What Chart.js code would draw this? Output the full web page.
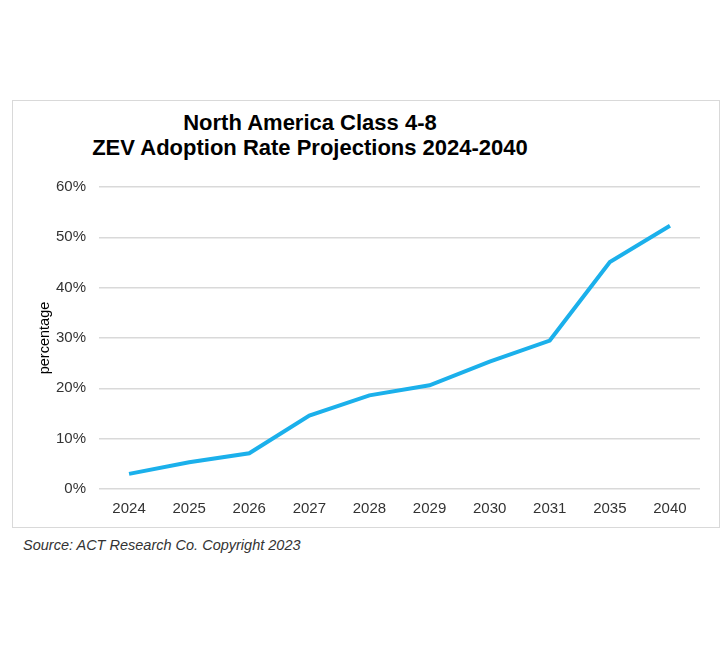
<!DOCTYPE html>
<html>
<head>
<meta charset="utf-8">
<script src="https://cdn.jsdelivr.net/npm/chart.js@4.4.0/dist/chart.umd.min.js"></script>
<style>
  html, body { margin: 0; padding: 0; background: #fff; }
  body { width: 724px; height: 651px; position: relative; overflow: hidden; font-family: "Liberation Sans", Arial, sans-serif; }
  #box { position: absolute; left: 12px; top: 100px; width: 706px; height: 426px; border: 1px solid #d9d9d9; }
  #wrap { position: absolute; left: 13px; top: 101px; width: 704px; height: 425px; }
  #title { position: absolute; left: 60px; top: 110px; width: 500px; text-align: center; font-weight: bold; font-size: 22px; line-height: 25px; color: #000; }
  #source { position: absolute; left: 23px; top: 537px; font-style: italic; font-size: 14.5px; line-height: 16px; color: #333; }
</style>
</head>
<body>
<div id="box"></div>
<div id="title">North America Class 4-8<br>ZEV Adoption Rate Projections 2024-2040</div>
<div id="wrap"><canvas id="zevChart"></canvas></div>
<div id="source">Source: ACT Research Co. Copyright 2023</div>
<script>
// data
const years = ['2024', '2025', '2026', '2027', '2028', '2029', '2030', '2031', '2035', '2040'];
const adoptionPct = [3.0, 5.3, 7.1, 14.6, 18.6, 20.6, 25.3, 29.5, 45.1, 52.3];
const yTicks = [0, 10, 20, 30, 40, 50, 60];

const tickFont = { family: '"Liberation Sans", Arial, sans-serif', size: 15 };
const axisTitleFont = { family: '"Liberation Sans", Arial, sans-serif', size: 14.5 };

new Chart(document.getElementById('zevChart').getContext('2d'), {
    type: 'line',
    data: {
        labels: years,
        datasets: [{
            label: 'ZEV adoption',
            data: adoptionPct,
            borderColor: '#1bb0eb',
            borderWidth: 4,
            pointRadius: 0,
            tension: 0,
            fill: false
        }]
    },
    options: {
        responsive: true,
        maintainAspectRatio: false,
        animation: false,
        layout: { padding: { top: 86, right: 17, bottom: 0, left: 20 } },
        plugins: {
            legend: { display: false },
            tooltip: { enabled: false }
        },
        scales: {
            x: {
                offset: true,
                grid: { display: false, drawTicks: false },
                border: { display: false },
                ticks: { color: '#333', font: tickFont, padding: 11, maxRotation: 0 },
                afterFit: (scale) => { scale.height = 37; }
            },
            y: {
                min: 0,
                max: 60,
                afterBuildTicks: (scale) => { scale.ticks = yTicks.map(v => ({ value: v })); },
                grid: { color: '#d9d9d9', lineWidth: 1.5, drawTicks: false },
                border: { display: false },
                ticks: {
                    color: '#333',
                    font: tickFont,
                    padding: 13,
                    callback: (value) => value + '%'
                },
                title: {
                    display: true,
                    text: 'percentage',
                    color: '#000',
                    font: axisTitleFont,
                    padding: 3
                },
                afterFit: (scale) => { scale.width = 66; }
            }
        }
    }
});
</script>
</body>
</html>
